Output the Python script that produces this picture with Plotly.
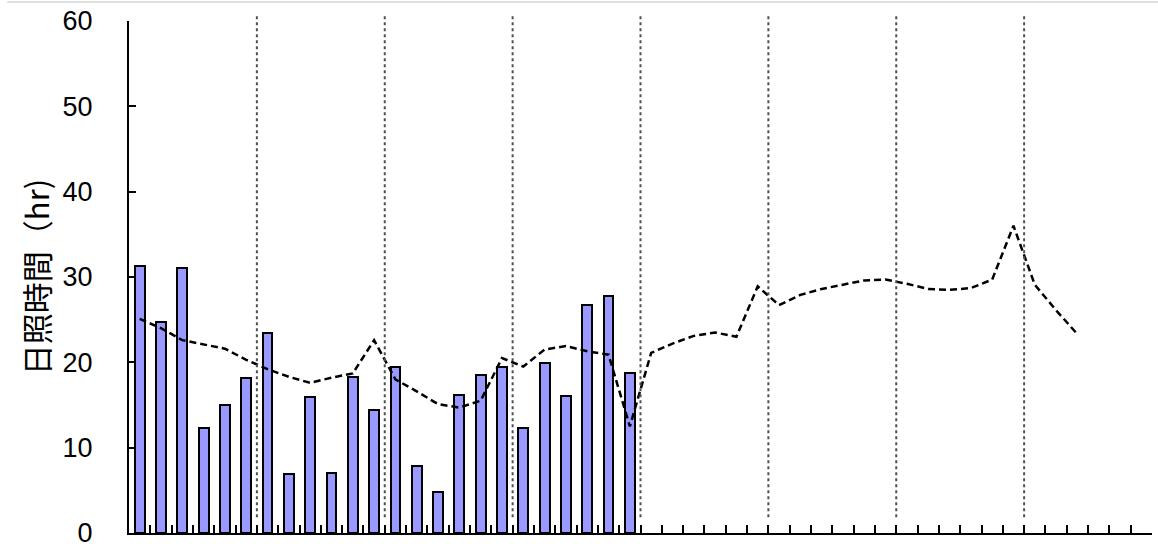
import plotly.graph_objects as go

# Pentad (5-day period) sunshine duration, hours
n_periods = 48
periods_per_month = 6

sunshine = [31.3, 24.7, 31.1, 12.3, 15.0, 18.2,
            23.4, 6.9, 15.9, 7.0, 18.3, 14.4,
            19.4, 7.8, 4.8, 16.2, 18.5, 19.5,
            12.3, 19.9, 16.0, 26.7, 27.8, 18.7]

# Normal (climatological) sunshine duration per pentad, hours
normal = [25.1, 24.0, 22.6, 22.1, 21.6, 20.3,
          19.2, 18.3, 17.6, 18.2, 18.7, 22.6,
          18.0, 16.6, 15.1, 14.7, 15.5, 20.5,
          19.5, 21.5, 21.9, 21.3, 20.9, 12.5,
          21.1, 22.2, 23.1, 23.5, 23.0, 28.9,
          26.7, 27.9, 28.6, 29.1, 29.6, 29.7,
          29.2, 28.6, 28.5, 28.7, 29.7, 36.0,
          29.1, 26.1, 23.3]

y_ticks = [0, 10, 20, 30, 40, 50, 60]
y_title = "日照時間（hr)"

x_bar = [i + 0.5 for i in range(len(sunshine))]
x_norm = [i + 0.5 for i in range(len(normal))]

fig = go.Figure()
fig.add_trace(go.Bar(
    x=x_bar, y=sunshine, width=0.46,
    marker=dict(color="#9999ff", line=dict(color="black", width=2)),
    showlegend=False,
))
fig.add_trace(go.Scatter(
    x=x_norm, y=normal, mode="lines",
    line=dict(color="black", width=2.5, dash="7px,4px"),
    showlegend=False,
))

# dotted month separators
shapes = []
for k in range(periods_per_month, n_periods, periods_per_month):
    xp = k / n_periods
    shapes.append(dict(type="line", xref="paper", yref="paper",
                       x0=xp, x1=xp, y0=0.031, y1=1.014,
                       line=dict(color="#505050", width=2, dash="dot")))
# thin frame line along the top edge
shapes.append(dict(type="line", xref="paper", yref="paper",
                   x0=-0.119, x1=1.01, y0=1.037, y1=1.037,
                   line=dict(color="#d4d4d4", width=1.5)))

fig.update_layout(
    width=1158, height=547,
    margin=dict(l=129, r=6, t=21, b=14),
    paper_bgcolor="white", plot_bgcolor="white",
    bargap=0,
    shapes=shapes,
    font=dict(family="Liberation Sans, Arial, sans-serif", color="black"),
)
fig.update_xaxes(
    range=[0, n_periods],
    tickmode="array", tickvals=list(range(0, n_periods + 1)),
    ticks="inside", ticklen=8, tickwidth=2, tickcolor="black",
    showticklabels=False, automargin=False,
    showline=True, linecolor="black", linewidth=2,
    showgrid=False, zeroline=False,
)
fig.update_yaxes(
    range=[0, 60],
    tickmode="array", tickvals=y_ticks, ticktext=[str(v) for v in y_ticks],
    ticks="inside", ticklen=7, tickwidth=2, tickcolor="black",
    tickfont=dict(size=27, family="Liberation Sans, Arial, sans-serif"),
    ticklabelstandoff=29, ticklabeloverflow="allow", automargin=False,
    showline=True, linecolor="black", linewidth=2,
    showgrid=False, zeroline=False,
    title=dict(text=y_title, standoff=4,
               font=dict(size=31, family="Noto Sans CJK JP")),
)

fig.write_html("out.html")
